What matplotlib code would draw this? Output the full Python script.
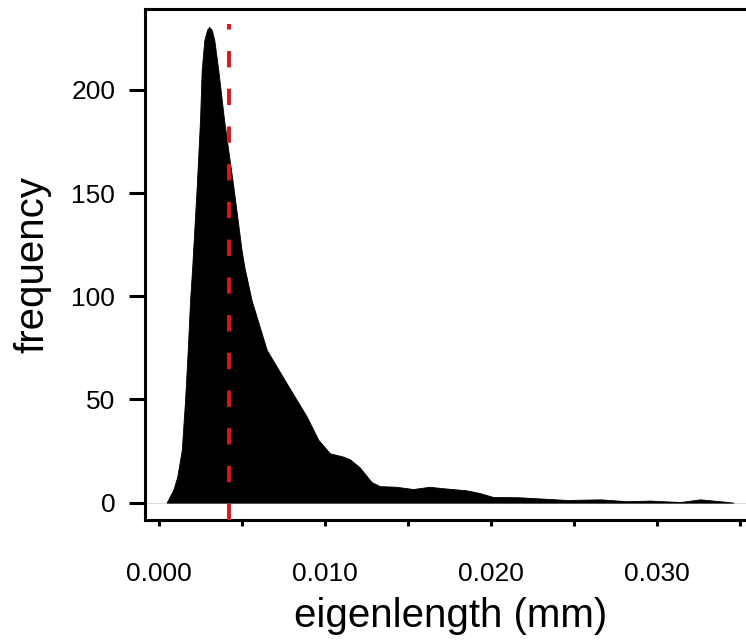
import matplotlib
matplotlib.use('Agg')
import matplotlib.pyplot as plt

# density curve of eigenlength
eigenlength = [0.00046, 0.00066, 0.00086, 0.00110, 0.00137, 0.00157, 0.00173,
               0.00187, 0.00200, 0.00213, 0.00227, 0.00247, 0.00257, 0.00273,
               0.00290, 0.00303, 0.00318, 0.00333, 0.00357, 0.00392, 0.00448,
               0.00498, 0.00514, 0.00558, 0.00649, 0.00769, 0.00890, 0.00960,
               0.01030, 0.01110, 0.01150, 0.01210, 0.01280, 0.01330, 0.01430,
               0.01530, 0.01630, 0.01710, 0.01850, 0.01930, 0.02010, 0.02170,
               0.02460, 0.02660, 0.02820, 0.02960, 0.03140, 0.03260, 0.03380,
               0.03460]
frequency = [0.0, 3.2, 6.2, 12.6, 25.5, 49.8, 74.0,
             98.0, 114.3, 133.0, 153.0, 185.4, 209.6, 224.2,
             229.2, 230.5, 229.0, 224.2, 209.6, 185.4, 153.0,
             122.0, 114.3, 98.0, 74.0, 57.8, 41.7, 30.4,
             23.9, 22.3, 21.0, 17.0, 10.0, 8.0, 7.7,
             6.6, 7.7, 7.0, 6.0, 4.7, 2.8, 2.6,
             1.3, 1.6, 0.7, 1.0, 0.3, 1.6, 0.7,
             0.0]
median_length = 0.0042

xticks = [0.000, 0.005, 0.010, 0.015, 0.020, 0.025, 0.030, 0.035]
xticklabels = ['0.000', '', '0.010', '', '0.020', '', '0.030', '']
yticks = [0, 50, 100, 150, 200]

plt.rcParams['font.family'] = ['Liberation Sans', 'DejaVu Sans']

fig = plt.figure(figsize=(7.46, 6.41), dpi=100)
ax = fig.add_axes([0.1944, 0.1888, 0.8198, 0.7972])

ax.axhline(0, color='#dddddd', linewidth=0.8, zorder=1)
ax.fill_between(eigenlength, frequency, 0, color='black', linewidth=0.6,
                edgecolor='black', zorder=2)
ax.plot([median_length, median_length], [-8.4, 232], color='#d7191c',
        linewidth=2.8, linestyle=(0, (4.2, 5.5)), zorder=3, clip_on=False)

ax.set_xlim(-0.000843, 0.0360)
ax.set_ylim(-8.4, 239.2)

ax.set_xticks(xticks)
ax.set_xticklabels(xticklabels)
ax.set_yticks(yticks)

for s in ax.spines.values():
    s.set_linewidth(2.2)

ax.tick_params(axis='x', length=4.5, width=2.2, labelsize=19, pad=26)
ax.tick_params(axis='y', length=11.5, width=2.2, labelsize=19, pad=10)

ax.set_xlabel('eigenlength (mm)', fontsize=29, labelpad=8)
ax.set_ylabel('frequency', fontsize=29, labelpad=14)

fig.savefig('out.png', dpi=100)
